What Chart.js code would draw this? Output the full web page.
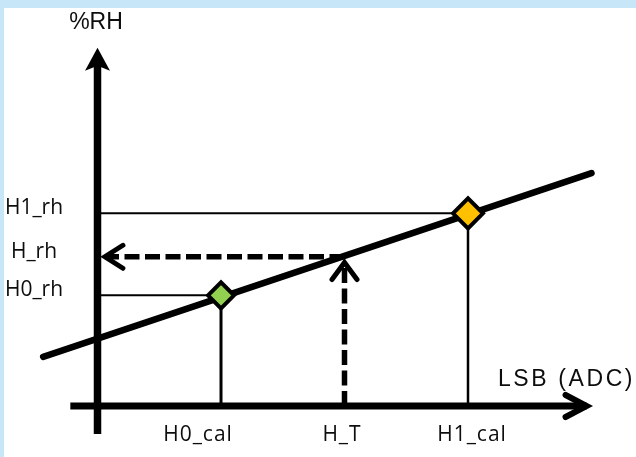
<!DOCTYPE html>
<html><head><meta charset="utf-8">
<script src="https://cdn.jsdelivr.net/npm/chart.js@4/dist/chart.umd.min.js"></script>
<style>
html,body{margin:0;padding:0;background:#c7e7f9;width:636px;height:457px;overflow:hidden}
#wrap{position:absolute;left:4px;top:8px;width:632px;height:449px;background:#fff}
canvas{display:block}
</style></head><body>
<div id="wrap"><canvas id="c" width="632" height="449"></canvas></div>
<script>
// ---- data (arbitrary LSB / %RH units) ----
const xTickLabels = ['H0_cal', 'H_T', 'H1_cal'];
const xTickValues = [1, 2, 3];
const yTickLabels = ['H1_rh', 'H_rh', 'H0_rh'];
const yTickValues = [47, 36.4, 27];
const xAxisTitle = 'LSB (ADC)';
const yAxisTitle = '%RH';
const calX = [1, 3];            // H0_cal, H1_cal
const calY = [27, 47];          // H0_rh, H1_rh
const fitX = [-0.44, 4.0];      // calibration line ends
const fitY = [12.0, 56.8];
const measX = 2;                // H_T
const measY = 36.4;             // H_rh
const measUpEnd = 35.0;         // end of the upward dashed arrow
const measLeftEnd = 0.06;       // end of the leftward dashed arrow
const xAxisSpan = [-0.22, 3.96];
const yAxisSpan = [-6.8, 85.4];
const xRange = [-0.7571, 4.3603];
const yRange = [-12.439, 97.073];

const pts = (xs, ys) => xs.map((x, i) => ({ x, y: ys[i] }));
const seg = (x1, y1, x2, y2) => [{ x: x1, y: y1 }, { x: x2, y: y2 }];

const arrowPlugin = {
  id: 'arrows',
  afterDatasetsDraw(chart) {
    const ctx = chart.ctx;
    chart.data.datasets.forEach((ds, i) => {
      if (!ds.arrow) return;
      const d = chart.getDatasetMeta(i).data;
      const a = d[d.length - 2], b = d[d.length - 1];
      const ang = Math.atan2(b.y - a.y, b.x - a.x);
      const o = ds.arrow;
      ctx.save();
      ctx.translate(b.x, b.y);
      ctx.rotate(ang);
      ctx.fillStyle = '#000';
      ctx.strokeStyle = '#000';
      if (o.fill) {
        ctx.beginPath();
        ctx.moveTo(o.ext, 0);
        ctx.lineTo(o.ext - o.len, -o.half);
        ctx.lineTo(o.ext - o.len + o.notch, 0);
        ctx.lineTo(o.ext - o.len, o.half);
        ctx.closePath();
        ctx.fill();
      } else {
        ctx.beginPath();
        ctx.moveTo(-o.len, -o.half);
        ctx.lineTo(0, 0);
        ctx.lineTo(-o.len, o.half);
        ctx.lineWidth = o.width;
        ctx.lineCap = 'round';
        ctx.lineJoin = 'miter';
        ctx.stroke();
      }
      ctx.restore();
    });
  }
};

const textPlugin = {
  id: 'texts',
  afterDraw(chart) {
    const { ctx, scales: { x, y } } = chart;
    const x0 = x.getPixelForValue(0), y0 = y.getPixelForValue(0);
    ctx.save();
    ctx.fillStyle = '#0d0d0d';
    ctx.textBaseline = 'alphabetic';
    // x tick labels
    const xOff = [-23, -2.5, 4];
    ctx.font = '21px "Open Sans"';
    ctx.textAlign = 'center';
    ctx.letterSpacing = '1px';
    xTickLabels.forEach((t, i) => ctx.fillText(t, x.getPixelForValue(xTickValues[i]) + xOff[i], y0 + 35));
    // y tick labels
    ctx.letterSpacing = '0px';
    yTickLabels.forEach((t, i) => ctx.fillText(t, x0 - 63.5, y.getPixelForValue(yTickValues[i]) + 1));
    // axis titles
    ctx.font = '23px "Liberation Sans"';
    ctx.fillText(yAxisTitle, x0 - 1.5, y.getPixelForValue(yAxisSpan[1]) - 27);
    ctx.font = '23px "Liberation Sans"';
    ctx.textAlign = 'left';
    ctx.letterSpacing = '2.6px';
    ctx.fillText(xAxisTitle, x.getPixelForValue(xAxisSpan[1]) - 88.6, y0 - 20);
    ctx.restore();
  }
};

const line = (data, width, extra) => Object.assign({
  data, showLine: true, borderColor: '#000', borderWidth: width,
  pointRadius: 0, pointHoverRadius: 0, borderCapStyle: 'butt'
}, extra || {});

const datasets = [
  { label: 'calibration points', data: pts(calX, calY), showLine: false,
    pointStyle: 'rectRot', pointRadius: [13, 15], pointHoverRadius: [13, 15],
    pointBackgroundColor: ['#92d050', '#ffc000'], pointBorderColor: '#000', pointBorderWidth: 4 },
  line(pts(fitX, fitY), 6.5, { borderCapStyle: 'round' }),
  line(seg(measX, 0, measX, measUpEnd), 5.5, { borderDash: [15, 5.5], arrow: { len: 17, half: 12.5, width: 5 } }),
  line(seg(measX, measY, measLeftEnd, measY), 5.5, { borderDash: [15, 5.5], arrow: { len: 18, half: 11.5, width: 5 } }),
  line(seg(0, calY[1], calX[1], calY[1]), 2),
  line(seg(0, calY[0], calX[0], calY[0]), 2),
  line(seg(calX[0], 0, calX[0], calY[0]), 3),
  line(seg(calX[1], 0, calX[1], calY[1]), 2.5),
  line(seg(xAxisSpan[0], 0, xAxisSpan[1], 0), 7, { arrow: { len: 21, half: 11, width: 6 } }),
  line(seg(0, yAxisSpan[0], 0, yAxisSpan[1]), 7.5, { arrow: { fill: true, len: 23, half: 12.5, notch: 5, ext: 8 } })
];

new Chart(document.getElementById('c'), {
  type: 'scatter',
  data: { datasets },
  options: {
    responsive: false, animation: false, devicePixelRatio: 1, events: [],
    layout: { padding: 0, autoPadding: false },
    plugins: { legend: { display: false }, tooltip: { enabled: false } },
    elements: { line: { tension: 0, fill: false } },
    scales: {
      x: { type: 'linear', display: false, min: xRange[0], max: xRange[1] },
      y: { type: 'linear', display: false, min: yRange[0], max: yRange[1] }
    }
  },
  plugins: [arrowPlugin, textPlugin]
});
</script>
</body></html>
